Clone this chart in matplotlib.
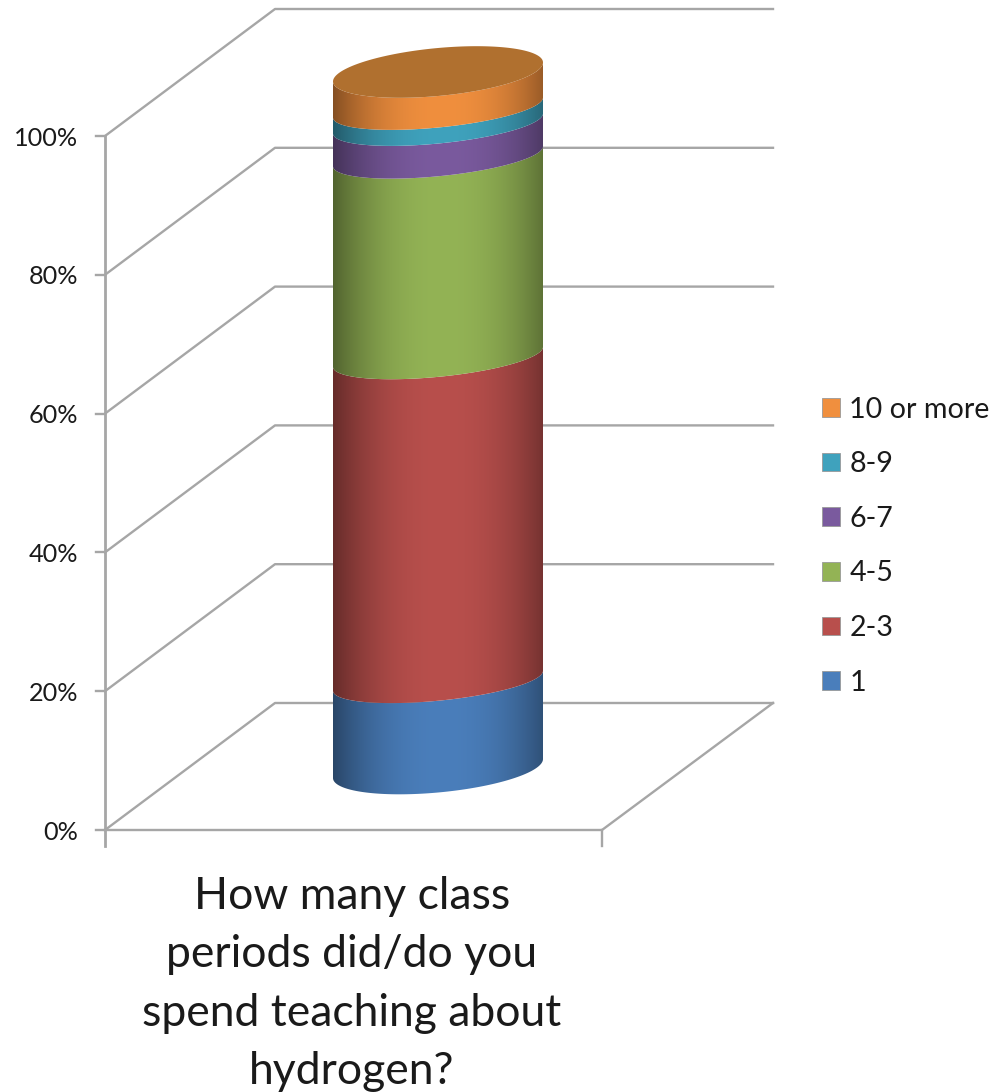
import numpy as np
import matplotlib
matplotlib.use('Agg')
import matplotlib.pyplot as plt
from matplotlib.patches import Patch, PathPatch
from matplotlib.path import Path

plt.rcParams['font.family'] = ['Lato', 'DejaVu Sans']

# data, bottom of the stack first
categories = ['1', '2-3', '4-5', '6-7', '8-9', '10 or more']
shares = [12.6, 46.5, 28.8, 4.7, 2.3, 5.1]
colors = ['#4a7ebb', '#b84f4c', '#93b355', '#7a5a9e', '#3fa2bd', '#f08f3e']
top_color = '#b0702f'
tick_values = [0, 20, 40, 60, 80, 100]
tick_labels = ['0%', '20%', '40%', '60%', '80%', '100%']
title = 'How many class\nperiods did/do you\nspend teaching about\nhydrogen?'

grid_col = '#a6a6a6'
text_col = '#1a1a1a'

# geometry in pixels of the picture
front_x, front_right = 105, 602
depth_x, depth_y = 170, 127
y0, y100 = 830, 136
cyl_x, cyl_r = 438, 105
cyl_y0, cyl_y100 = 768.5, 72


def val2y(v):
    return y0 + (y100 - y0) * v / 100.0


def cyl_y(v):
    return cyl_y0 + (cyl_y100 - cyl_y0) * v / 100.0


def arc(v, t, b=24, tilt=9.5):
    x = cyl_x + cyl_r * np.cos(t)
    y = cyl_y(v) + b * np.sin(t) - tilt * np.cos(t)
    return np.column_stack([x, y])


def seam(v, t):
    # the seams between segments look flatter than the two ends
    if v <= 0 or v >= sum(shares) - 0.01:
        return arc(v, t)
    return arc(v, t, b=20, tilt=10)


fig = plt.figure(figsize=(10.07, 10.92), dpi=100)
ax = fig.add_axes([0, 0, 1, 1])

# walls and floor
for v, lab in zip(tick_values, tick_labels):
    y = val2y(v)
    ax.plot([front_x, front_x + depth_x, front_x + depth_x + 498],
            [y, y - depth_y, y - depth_y], color=grid_col, lw=1.7, zorder=1)
    ax.plot([front_x - 9, front_x], [y, y], color=grid_col, lw=1.7, zorder=1)
    ax.text(78, y + 2, lab, ha='right', va='center', fontsize=18.2, color=text_col)
ax.plot([front_x, front_x], [val2y(100), y0 + 16], color=grid_col, lw=2, zorder=1)
ax.plot([front_x, front_right, front_right + 171], [y0, y0, y0 - depth_y],
        color=grid_col, lw=1.7, zorder=1)
ax.plot([front_right, front_right], [y0, y0 + 16], color=grid_col, lw=1.7, zorder=1)

# side shading of the cylinder
u = np.linspace(-1, 1, 400)
shade = 0.6 + 0.4 * (1 - np.abs(u - 0.05) ** 2.2)
t_front = np.linspace(0, np.pi, 120)
t_back = t_front[::-1]

base = 0
for share, col in zip(shares, colors):
    rgb = np.array(matplotlib.colors.to_rgb(col))
    img = (shade[:, None] * rgb)[None, :, :]
    verts = np.vstack([seam(base, t_front), seam(base + share, t_back)])
    path = Path(np.vstack([verts, verts[0]]), closed=True)
    im = ax.imshow(img, extent=(cyl_x - cyl_r, cyl_x + cyl_r, 800, 40),
                   aspect='auto', zorder=3, interpolation='bilinear')
    patch = PathPatch(path, transform=ax.transData, fc='none', ec='none')
    ax.add_patch(patch)
    im.set_clip_path(patch)
    base += share

# top cap
verts = arc(sum(shares), np.linspace(0, 2 * np.pi, 240))
ax.fill(verts[:, 0], verts[:, 1], color=top_color, lw=0, zorder=4)

# legend
handles = [Patch(fc=c, ec='#999999', lw=0.6) for c in colors[::-1]]
ax.legend(handles, categories[::-1], loc='upper left', bbox_to_anchor=(822, 396.5),
          bbox_transform=ax.transData, frameon=False, fontsize=20.6, labelcolor=text_col,
          handlelength=0.63, handleheight=0.63, handletextpad=0.33,
          labelspacing=1.0, borderpad=0, borderaxespad=0)

ax.text(352, 984, title, ha='center', va='center', fontsize=32, linespacing=1.52, color=text_col)

ax.set_xlim(0, 1007)
ax.set_ylim(1092, 0)
ax.axis('off')
fig.savefig('out.png', dpi=100)
